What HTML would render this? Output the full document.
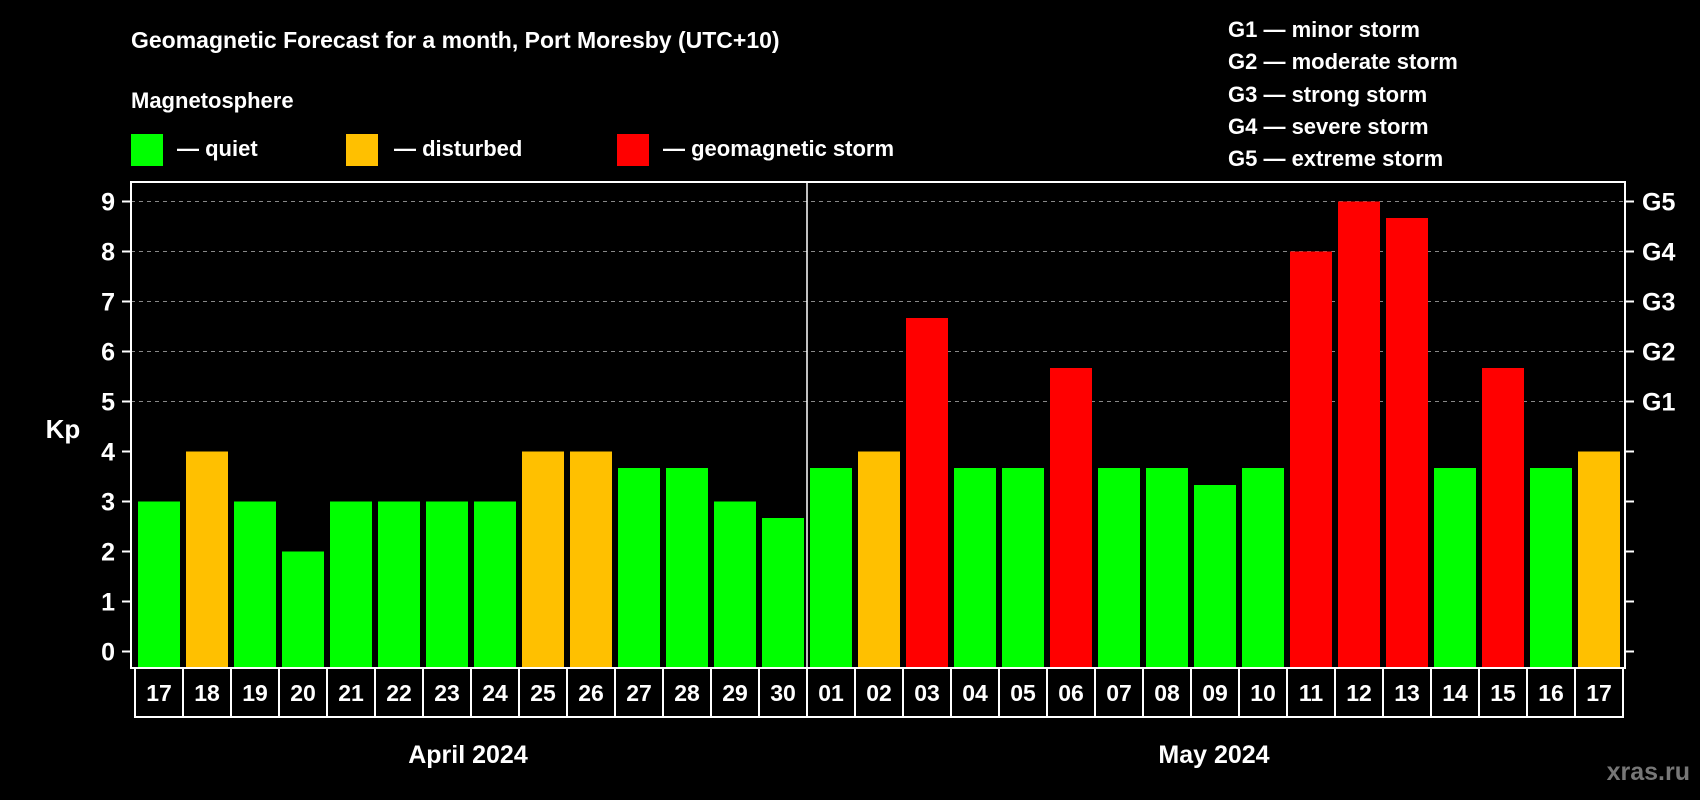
<!DOCTYPE html>
<html><head><meta charset="utf-8"><style>
html,body{margin:0;padding:0;background:#000;width:1700px;height:800px;overflow:hidden}
svg{display:block;font-family:"Liberation Sans",Arial,sans-serif;font-weight:bold}
</style></head><body>
<svg id="c" width="1700" height="800" viewBox="0 0 1700 800">
<rect width="1700" height="800" fill="#000"/>
<text x="131" y="48" fill="#fff" font-size="23">Geomagnetic Forecast for a month, Port Moresby (UTC+10)</text>
<text x="131" y="108" fill="#fff" font-size="22">Magnetosphere</text>
<rect x="131" y="134" width="32" height="32" fill="#00ff00"/>
<text x="177" y="156" fill="#fff" font-size="22">— quiet</text>
<rect x="346" y="134" width="32" height="32" fill="#ffc000"/>
<text x="394" y="156" fill="#fff" font-size="22">— disturbed</text>
<rect x="617" y="134" width="32" height="32" fill="#ff0000"/>
<text x="663" y="156" fill="#fff" font-size="22">— geomagnetic storm</text>
<g font-size="22" fill="#fff">
<text x="1228" y="37">G1 — minor storm</text>
<text x="1228" y="69">G2 — moderate storm</text>
<text x="1228" y="102">G3 — strong storm</text>
<text x="1228" y="134">G4 — severe storm</text>
<text x="1228" y="166">G5 — extreme storm</text>
</g>
<text x="63" y="438" fill="#fff" font-size="26" text-anchor="middle">Kp</text>
<g id="plot"></g>
<text x="468" y="763" fill="#fff" font-size="25" text-anchor="middle">April 2024</text>
<text x="1214" y="763" fill="#fff" font-size="25" text-anchor="middle">May 2024</text>
<text x="1690" y="780" fill="#777" font-size="25" text-anchor="end">xras.ru</text>
</svg>
<script>
const days=["17","18","19","20","21","22","23","24","25","26","27","28","29","30","01","02","03","04","05","06","07","08","09","10","11","12","13","14","15","16","17"];
const kpValues=[3,4,3,2,3,3,3,3,4,4,3.67,3.67,3,2.67,3.67,4,6.67,3.67,3.67,5.67,3.67,3.67,3.33,3.67,8,9,8.67,3.67,5.67,3.67,4];
const yTicks=[0,1,2,3,4,5,6,7,8,9];
const gLabels=["G1","G2","G3","G4","G5"];
const gLevels=[5,6,7,8,9];
const monthSplitIndex=14;

const NS="http://www.w3.org/2000/svg";
const g=document.getElementById('plot');
const L=131,R=1625,T=182,B=668,x0=138,step=48,bw=42;
const y=v=>651.5-50*v;
const xb=i=>x0+step*i;
function mk(t,a){const e=document.createElementNS(NS,t);for(const k in a)e.setAttribute(k,a[k]);g.appendChild(e);return e;}
gLevels.forEach(v=>{
 const e=mk('line',{x1:L,x2:R,y1:y(v),y2:y(v),stroke:'#888','stroke-width':1,'stroke-dasharray':'4,4'});
 
 
});
kpValues.forEach((v,i)=>{
 const c=v>=5?'#ff0000':(v>=4?'#ffc000':'#00ff00');
 const e=mk('rect',{x:xb(i),y:y(v),width:bw,height:B-y(v),fill:c});
 
 
});
const sx=xb(monthSplitIndex)-3;
const sl=mk('line',{x1:sx,x2:sx,y1:T,y2:B,stroke:'#fff','stroke-width':1.5});


const fr=mk('rect',{x:L,y:T,width:R-L,height:B-T,fill:'none',stroke:'#fff','stroke-width':2});


yTicks.forEach(v=>{
 mk('line',{x1:L-9,x2:L,y1:y(v),y2:y(v),stroke:'#fff','stroke-width':2});
 mk('line',{x1:R,x2:R+9,y1:y(v),y2:y(v),stroke:'#fff','stroke-width':2});
 const t=mk('text',{x:115,y:y(v)+9,fill:'#fff','font-size':25,'text-anchor':'end'});
 t.textContent=v;
 
 
});
gLabels.forEach((s,i)=>{
 const t=mk('text',{x:1642,y:y(gLevels[i])+9,fill:'#fff','font-size':25});
 t.textContent=s;
 
 
});
const bx=mk('rect',{x:x0-3,y:B,width:step*days.length,height:49,fill:'none',stroke:'#fff','stroke-width':2});


days.forEach((d,i)=>{
 if(i>0){mk('line',{x1:xb(i)-3,x2:xb(i)-3,y1:B,y2:B+49,stroke:'#fff','stroke-width':2});}
 const t=mk('text',{x:xb(i)+bw/2,y:B+33,fill:'#fff','font-size':23,'text-anchor':'middle'});
 t.textContent=d;
 
 
});
</script>
</body></html>
